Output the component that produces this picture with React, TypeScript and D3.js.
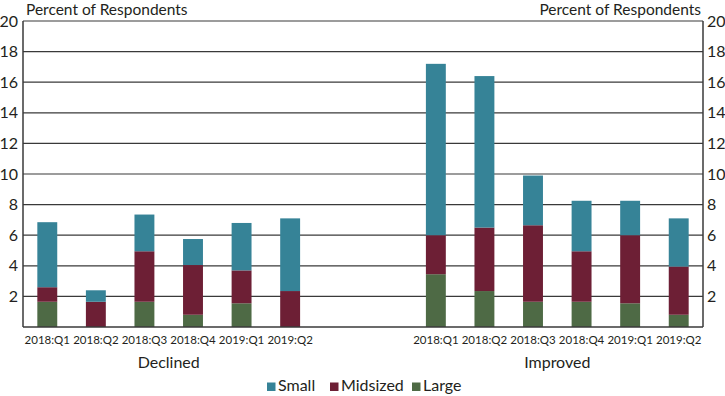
import * as d3 from "d3";

const quarters = ["2018:Q1", "2018:Q2", "2018:Q3", "2018:Q4", "2019:Q1", "2019:Q2"];
const groups = ["Declined", "Improved"];

// segment heights, percent of respondents
const declinedLarge = [1.65, 0, 1.65, 0.8, 1.55, 0];
const declinedMid = [0.95, 1.65, 3.3, 3.25, 2.15, 2.35];
const declinedSmall = [4.25, 0.75, 2.4, 1.7, 3.1, 4.75];
const improvedLarge = [3.45, 2.35, 1.65, 1.65, 1.55, 0.8];
const improvedMid = [2.55, 4.15, 5.0, 3.3, 4.45, 3.15];
const improvedSmall = [11.2, 9.9, 3.25, 3.3, 2.25, 3.15];

const seriesNames = ["Large", "Midsized", "Small"];
const seriesColors = ["#4e6a45", "#6d1f35", "#368397"];
const legendOrder = ["Small", "Midsized", "Large"];
const yTicks = [2, 4, 6, 8, 10, 12, 14, 16, 18, 20];

const W = 725;
const H = 396;
const margin = { top: 21, right: 22, bottom: 69, left: 23 };
const FONT = "Lato, 'Open Sans', sans-serif";
const INK = "#231f20";

type Row = { key: string; label: string; Large: number; Midsized: number; Small: number };

const rows: Row[] = [];
quarters.forEach((q, i) =>
  rows.push({ key: "D-" + q, label: q, Large: declinedLarge[i], Midsized: declinedMid[i], Small: declinedSmall[i] })
);
rows.push({ key: "gap1", label: "", Large: 0, Midsized: 0, Small: 0 });
rows.push({ key: "gap2", label: "", Large: 0, Midsized: 0, Small: 0 });
quarters.forEach((q, i) =>
  rows.push({ key: "I-" + q, label: q, Large: improvedLarge[i], Midsized: improvedMid[i], Small: improvedSmall[i] })
);

export default function App() {
  const x0 = margin.left;
  const x1 = W - margin.right;
  const y0 = H - margin.bottom;
  const y1 = margin.top;

  const x = d3
    .scaleBand()
    .domain(rows.map((r) => r.key))
    .range([x0, x1])
    .paddingInner(0.59)
    .paddingOuter(0.295);
  const y = d3.scaleLinear().domain([0, 20]).range([y0, y1]);

  const stack = d3.stack<Row>().keys(seriesNames)(rows);
  const color = d3.scaleOrdinal<string, string>().domain(seriesNames).range(seriesColors);

  const groupCenter = (prefix: string) => {
    const keys = quarters.map((q) => prefix + q);
    const a = x(keys[0])!;
    const b = x(keys[keys.length - 1])! + x.bandwidth();
    return (a + b) / 2;
  };

  const legendX = [267, 330, 412];

  return (
    <svg width={W} height={H} style={{ position: "absolute", left: 0, top: 0, fontFamily: FONT }}>
      <rect width={W} height={H} fill="#fff" />
      {/* gridlines */}
      {yTicks.map((t) => (
        <line key={t} x1={x0} x2={x1} y1={y(t)} y2={y(t)} stroke="#3a3a3a" strokeWidth={1.2} />
      ))}
      {/* bars */}
      {stack.map((s) => (
        <g key={s.key} fill={color(s.key)}>
          {s.map((d, i) =>
            d[1] - d[0] > 0 ? (
              <rect
                key={i}
                x={x(d.data.key)}
                y={y(d[1])}
                width={x.bandwidth()}
                height={y(d[0]) - y(d[1])}
              />
            ) : null
          )}
        </g>
      ))}
      {/* axes frame */}
      <line x1={x0} x2={x0} y1={y1} y2={y0} stroke="#3a3a3a" strokeWidth={1.5} />
      <line x1={x1} x2={x1} y1={y1} y2={y0} stroke="#3a3a3a" strokeWidth={1.5} />
      <line x1={x0} x2={x1} y1={y0} y2={y0} stroke="#3a3a3a" strokeWidth={1.5} />
      {/* y tick labels */}
      {yTicks.map((t) => (
        <g key={"l" + t} fontSize={16} fill={INK}>
          <text x={x0 - 5} y={y(t)} dy="0.35em" textAnchor="end">
            {t}
          </text>
          <text x={x1 + 4} y={y(t)} dy="0.35em" textAnchor="start">
            {t}
          </text>
        </g>
      ))}
      <text x={x0 + 3} y={15} fontSize={15.5} fill={INK}>
        Percent of Respondents
      </text>
      <text x={x1 - 2} y={15} fontSize={15.5} fill={INK} textAnchor="end">
        Percent of Respondents
      </text>
      {/* x tick labels */}
      {rows
        .filter((r) => r.label)
        .map((r) => (
          <text
            key={"x" + r.key}
            x={x(r.key)! + x.bandwidth() / 2}
            y={y0 + 17}
            fontSize={11.5}
            fill={INK}
            textAnchor="middle"
          >
            {r.label}
          </text>
        ))}
      <text x={groupCenter("D-")} y={y0 + 41} fontSize={16} fill={INK} textAnchor="middle">
        {groups[0]}
      </text>
      <text x={groupCenter("I-")} y={y0 + 41} fontSize={16} fill={INK} textAnchor="middle">
        {groups[1]}
      </text>
      {/* legend */}
      {legendOrder.map((name, i) => (
        <g key={name} transform={`translate(${legendX[i]},${H - 5})`}>
          <rect x={0} y={-8.5} width={8.5} height={8.5} fill={color(name)} />
          <text x={11} y={0} fontSize={16} fill={INK}>
            {name}
          </text>
        </g>
      ))}
    </svg>
  );
}
